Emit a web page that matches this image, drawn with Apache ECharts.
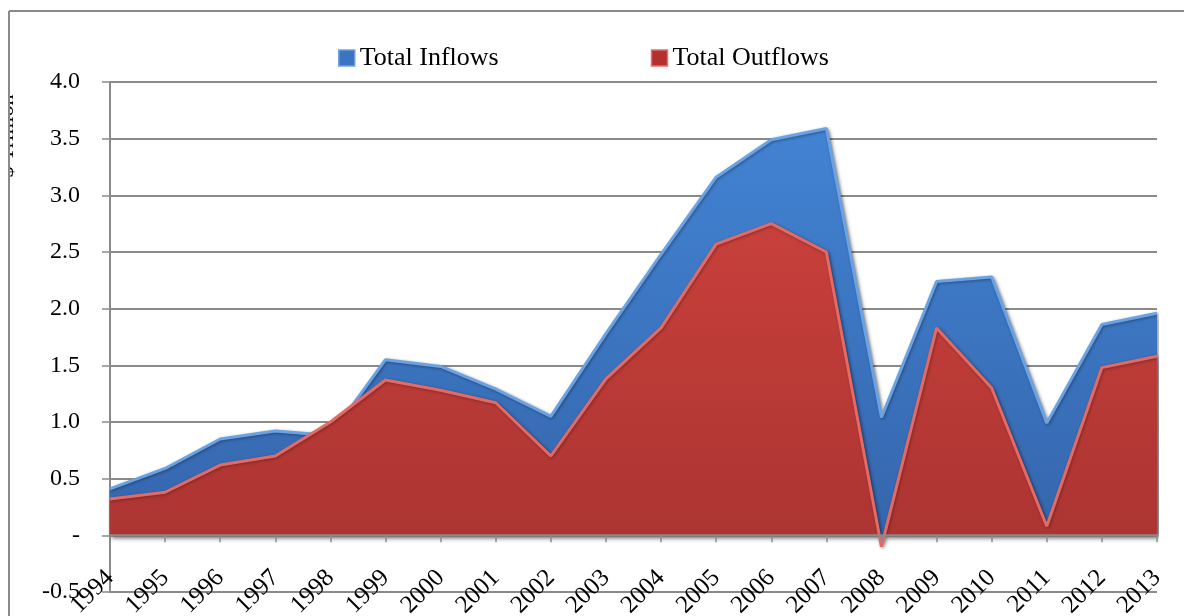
<!DOCTYPE html>
<html>
<head>
<meta charset="utf-8">
<script src="https://cdn.jsdelivr.net/npm/echarts@6/dist/echarts.min.js"></script>
<style>
  html, body { margin: 0; padding: 0; background: #fff; }
  #chart { width: 1184px; height: 616px; }
</style>
</head>
<body>
<div id="chart"></div>
<script>
// Capital flows, $ trillion
const years = ['1994','1995','1996','1997','1998','1999','2000','2001','2002','2003',
               '2004','2005','2006','2007','2008','2009','2010','2011','2012','2013'];
const inflows  = [0.41, 0.59, 0.85, 0.92, 0.88, 1.55, 1.49, 1.29, 1.05, 1.78,
                  2.48, 3.16, 3.49, 3.59, 1.04, 2.24, 2.28, 0.99, 1.86, 1.96];
const outflows = [0.32, 0.38, 0.62, 0.70, 1.00, 1.37, 1.28, 1.17, 0.70, 1.38,
                  1.83, 2.57, 2.75, 2.50, -0.10, 1.83, 1.30, 0.08, 1.48, 1.58];
const yTicks = { min: -0.5, max: 4.0, step: 0.5 };

const serif = '"Liberation Serif", "DejaVu Serif", serif';
const gray = '#8a8a8a';

const chart = echarts.init(document.getElementById('chart'), null, { renderer: 'canvas' });

function areaGradient(top, bottom) {
  return new echarts.graphic.LinearGradient(0, 0, 0, 1, [
    { offset: 0, color: top },
    { offset: 1, color: bottom }
  ]);
}

chart.setOption({
  backgroundColor: '#ffffff',
  animation: false,
  grid: { left: 110, right: 27, top: 82, bottom: 24, containLabel: false, outerBoundsMode: 'none' },
  legend: {
    top: 40,
    left: 333,
    itemWidth: 16,
    itemHeight: 16,
    itemGap: 152,
    icon: 'rect',
    textStyle: { fontFamily: serif, fontSize: 26, color: '#000' },
    data: [
      { name: 'Total Inflows', itemStyle: { color: '#3a74c2', borderColor: '#6ea4e4', borderWidth: 1.5 } },
      { name: 'Total Outflows', itemStyle: { color: '#b5302c', borderColor: '#e27070', borderWidth: 1.5 } }
    ]
  },
  xAxis: {
    type: 'category',
    data: years,
    boundaryGap: false,
    axisLine: { onZero: true, lineStyle: { color: gray, width: 2.5 } },
    axisTick: { show: true, length: 7, lineStyle: { color: gray, width: 1.5 } },
    axisLabel: {
      interval: 0,
      rotate: 45,
      margin: -18,
      fontFamily: serif,
      fontSize: 25,
      color: '#000'
    },
    splitLine: { show: false },
    z: 5
  },
  yAxis: {
    type: 'value',
    min: yTicks.min,
    max: yTicks.max,
    interval: yTicks.step,
    axisLine: { show: true, lineStyle: { color: gray, width: 2 } },
    axisTick: { show: true, length: 8, lineStyle: { color: gray, width: 1.5 } },
    axisLabel: {
      margin: 30,
      fontFamily: serif,
      fontSize: 24,
      color: '#000',
      formatter: v => (Math.abs(v) < 1e-9 ? '-' : v.toFixed(1))
    },
    splitLine: { show: true, showMinLine: true, lineStyle: { color: gray, width: 2 } }
  },
  series: [
    {
      name: 'Total Inflows',
      type: 'line',
      data: inflows,
      symbol: 'none',
      z: 2,
      lineStyle: { color: '#6aa2e6', width: 3, shadowColor: 'rgba(0,0,0,0.35)', shadowBlur: 3, shadowOffsetX: 1, shadowOffsetY: 1 },
      areaStyle: {
        color: areaGradient('#4283d3', '#3566ad'),
        opacity: 1,
        shadowColor: 'rgba(0,0,0,0.45)',
        shadowBlur: 5,
        shadowOffsetX: 2,
        shadowOffsetY: 2
      }
    },
    {
      name: 'Total Outflows',
      type: 'line',
      data: outflows,
      symbol: 'none',
      z: 3,
      lineStyle: { color: '#e46a66', width: 3, shadowColor: 'rgba(0,0,0,0.3)', shadowBlur: 3, shadowOffsetX: 1, shadowOffsetY: 1 },
      areaStyle: {
        color: areaGradient('#c8403b', '#ab3432'),
        opacity: 1,
        shadowColor: 'rgba(0,0,0,0.45)',
        shadowBlur: 5,
        shadowOffsetX: 2,
        shadowOffsetY: 2
      }
    }
  ],
  graphic: [
    {
      type: 'text',
      x: 18,
      y: 136,
      rotation: Math.PI / 2,
      style: {
        text: '$ Trillion',
        fontFamily: serif,
        fontSize: 22,
        fill: '#000',
        textAlign: 'center',
        textVerticalAlign: 'bottom'
      },
      z: 50
    },
    // white margin outside the chart frame
    { type: 'rect', shape: { x: 0, y: 0, width: 9, height: 616 }, style: { fill: '#fff' }, z: 60 },
    { type: 'rect', shape: { x: 0, y: 0, width: 1184, height: 11 }, style: { fill: '#fff' }, z: 60 },
    // chart frame
    { type: 'line', shape: { x1: 9, y1: 11, x2: 9, y2: 616 }, style: { stroke: gray, lineWidth: 2 }, z: 61 },
    { type: 'line', shape: { x1: 9, y1: 11, x2: 1184, y2: 11 }, style: { stroke: gray, lineWidth: 2 }, z: 61 }
  ]
});
</script>
</body>
</html>
